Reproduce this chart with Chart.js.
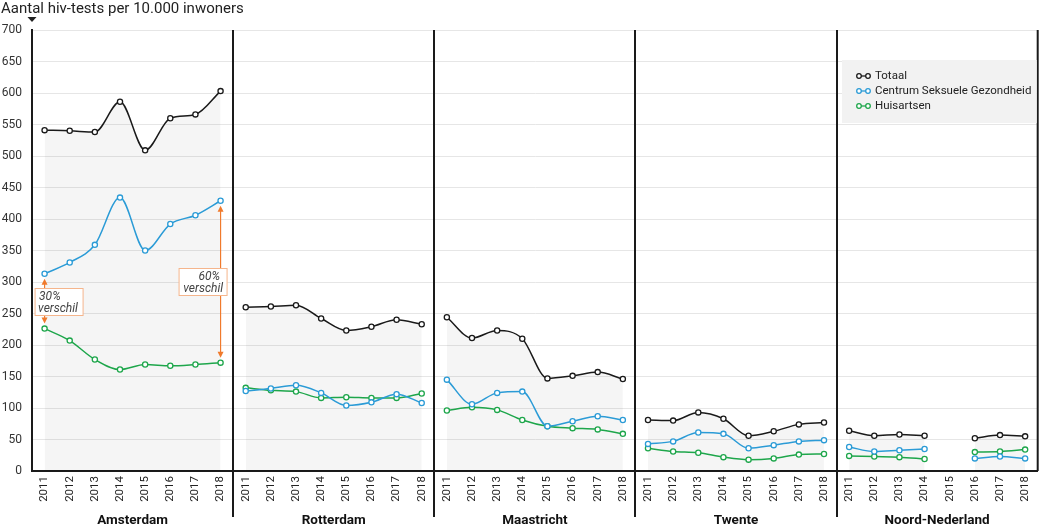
<!DOCTYPE html>
<html><head><meta charset="utf-8">
<script src="https://cdn.jsdelivr.net/npm/chart.js@4"></script>
<style>html,body{margin:0;padding:0;background:#fff;}#wrap{position:relative;width:1044px;height:527px;}</style>
</head><body><div id="wrap"><canvas id="c" width="1044" height="527"></canvas></div>
<script>
const title = "Aantal hiv-tests per 10.000 inwoners";
const regions = ["Amsterdam", "Rotterdam", "Maastricht", "Twente", "Noord-Nederland"];
const years = ["2011", "2012", "2013", "2014", "2015", "2016", "2017", "2018"];
const seriesNames = ["Totaal", "Centrum Seksuele Gezondheid", "Huisartsen"];
// values per region, in region order (8 years each)
const totaal = [
  541, 540, 538, 586, 509, 560, 566, 603,
  260, 261, 263, 242, 223, 229, 240, 233,
  244, 211, 223, 210, 147, 151, 157, 146,
  81, 80, 93, 83, 56, 63, 74, 77,
  64, 56, 58, 56, null, 52, 57, 55
];
const csg = [
  313, 331, 359, 434, 350, 392, 406, 429,
  127, 131, 136, 124, 104, 109, 122, 108,
  145, 106, 124, 126, 71, 79, 87, 81,
  43, 47, 61, 59, 36, 41, 47, 49,
  38, 31, 33, 35, null, 20, 23, 20
];
const huisartsen = [
  226, 207, 177, 161, 169, 167, 169, 172,
  132, 128, 126, 116, 117, 116, 116, 123,
  96, 101, 97, 81, 71, 68, 66, 59,
  36, 31, 29, 22, 18, 20, 26, 27,
  24, 23, 22, 19, null, 30, 31, 34
];
const annotations = [
  {index: 0, text: ["30%", "verschil"]},
  {index: 7, text: ["60%", "verschil"]}
];

const colors = ["#1a1a1a", "#2b9bd6", "#1ea64b"];
const seriesData = [totaal, csg, huisartsen];
const labels = [];
regions.forEach(() => years.forEach(y => labels.push(y)));

const datasets = [];
seriesData.forEach((arr, s) => {
  regions.forEach((r, ri) => {
    const d = labels.map((_, i) => (i >= ri * 8 && i < ri * 8 + 8) ? arr[i] : null);
    datasets.push({
      label: seriesNames[s] + " " + r,
      data: d,
      borderColor: colors[s],
      backgroundColor: s === 0 ? "rgba(0,0,0,0.04)" : "transparent",
      fill: s === 0 ? "origin" : false,
      borderWidth: 1.5,
      pointRadius: 2.6,
      pointBorderWidth: 1.3,
      pointBackgroundColor: "#fff",
      pointBorderColor: colors[s],
      cubicInterpolationMode: "monotone",
      spanGaps: false
    });
  });
});

const FONT = "Roboto, 'Liberation Sans', sans-serif";

const extras = {
  id: "extras",
  afterDraw(chart) {
    const ctx = chart.ctx, xs = chart.scales.x, ys = chart.scales.y, ca = chart.chartArea;
    ctx.save();
    // title
    ctx.fillStyle = "#222";
    ctx.font = "15px " + FONT;
    ctx.textAlign = "left"; ctx.textBaseline = "alphabetic";
    ctx.fillText(title, 1, 13);
    ctx.beginPath();
    ctx.moveTo(27.5, 17); ctx.lineTo(36.5, 17); ctx.lineTo(32, 22); ctx.closePath();
    ctx.fill();

    // separators
    ctx.strokeStyle = "#1a1a1a"; ctx.lineWidth = 2;
    for (let r = 1; r < regions.length; r++) {
      const x = Math.round((xs.getPixelForValue(r * 8 - 1) + xs.getPixelForValue(r * 8)) / 2);
      ctx.beginPath(); ctx.moveTo(x, ca.top); ctx.lineTo(x, 517); ctx.stroke();
    }
    ctx.beginPath(); ctx.moveTo(ca.right, ca.top); ctx.lineTo(ca.right, ca.bottom); ctx.stroke();

    // panel names
    ctx.font = "bold 13.5px " + FONT;
    ctx.fillStyle = "#111"; ctx.textAlign = "center"; ctx.textBaseline = "middle";
    regions.forEach((r, ri) => {
      const x = (xs.getPixelForValue(ri * 8) + xs.getPixelForValue(ri * 8 + 7)) / 2;
      ctx.fillText(r, x, 521);
    });

    // annotations
    annotations.forEach((a, k) => {
      const x = xs.getPixelForValue(a.index);
      const yTop = ys.getPixelForValue(csg[a.index]) + 5;
      const yBot = ys.getPixelForValue(huisartsen[a.index]) - 5;
      ctx.strokeStyle = "#f07a2c"; ctx.fillStyle = "#f07a2c"; ctx.lineWidth = 1.2;
      ctx.beginPath(); ctx.moveTo(x, yTop + 4); ctx.lineTo(x, yBot - 4); ctx.stroke();
      ctx.beginPath(); ctx.moveTo(x, yTop); ctx.lineTo(x - 3, yTop + 6); ctx.lineTo(x + 3, yTop + 6); ctx.closePath(); ctx.fill();
      ctx.beginPath(); ctx.moveTo(x, yBot); ctx.lineTo(x - 3, yBot - 6); ctx.lineTo(x + 3, yBot - 6); ctx.closePath(); ctx.fill();
      const mid = (yTop + yBot) / 2;
      const w = 48, h = 27;
      const bx = k === 0 ? x - 9.5 : x - 41.5;
      const by = Math.round(mid - h / 2) + 0.5;
      ctx.fillStyle = "#fff"; ctx.strokeStyle = "#f5b58c"; ctx.lineWidth = 1;
      ctx.fillRect(bx, by, w, h); ctx.strokeRect(bx, by, w, h);
      ctx.fillStyle = "#444"; ctx.font = "italic 12px " + FONT; ctx.textBaseline = "alphabetic";
      if (k === 0) {
        ctx.textAlign = "left";
        ctx.fillText(a.text[0], bx + 4, by + 11);
        ctx.fillText(a.text[1], bx + 3, by + 23);
      } else {
        ctx.textAlign = "right";
        ctx.fillText(a.text[0], bx + w - 7, by + 11);
        ctx.fillText(a.text[1], bx + w - 4, by + 23);
      }
    });

    // legend
    const lx = 842, ly = 60, lw = ca.right - 1 - lx, lh = 63;
    ctx.fillStyle = "#f2f2f2"; ctx.fillRect(lx, ly, lw, lh);
    ctx.font = "11.5px " + FONT; ctx.textAlign = "left"; ctx.textBaseline = "middle";
    seriesNames.forEach((n, i) => {
      const y = 76 + i * 15;
      ctx.strokeStyle = colors[i]; ctx.lineWidth = 1.3;
      ctx.beginPath(); ctx.moveTo(860, y); ctx.lineTo(867, y); ctx.stroke();
      [859, 868].forEach(cx => {
        ctx.beginPath(); ctx.arc(cx, y, 2.3, 0, Math.PI * 2);
        ctx.fillStyle = "#fff"; ctx.fill(); ctx.stroke();
      });
      ctx.fillStyle = "#222";
      ctx.fillText(n, 875, y + 0.5);
    });
    ctx.restore();
  }
};

new Chart(document.getElementById("c"), {
  type: "line",
  data: {labels, datasets},
  options: {
    responsive: false,
    animation: false,
    layout: {padding: {top: 30, right: 2, left: 0, bottom: 0}},
    plugins: {
      legend: {display: false},
      tooltip: {enabled: false},
      filler: {drawTime: "beforeDatasetsDraw"}
    },
    scales: {
      x: {
        type: "category",
        offset: true,
        grid: {display: false, drawTicks: false},
        border: {display: true, color: "#1a1a1a", width: 2},
        ticks: {autoSkip: false, minRotation: 90, maxRotation: 90, padding: 5,
          font: {size: 11.5, family: FONT}, color: "#222"},
        afterFit(s) { s.height = 56; }
      },
      y: {
        min: 0, max: 700,
        ticks: {stepSize: 50, padding: 10, font: {size: 12, family: FONT}, color: "#333"},
        grid: {color: "#e6e6e6", drawTicks: false},
        border: {display: true, color: "#1a1a1a", width: 2},
        afterFit(s) { s.width = 32; }
      }
    }
  },
  plugins: [extras]
});
</script></body></html>
